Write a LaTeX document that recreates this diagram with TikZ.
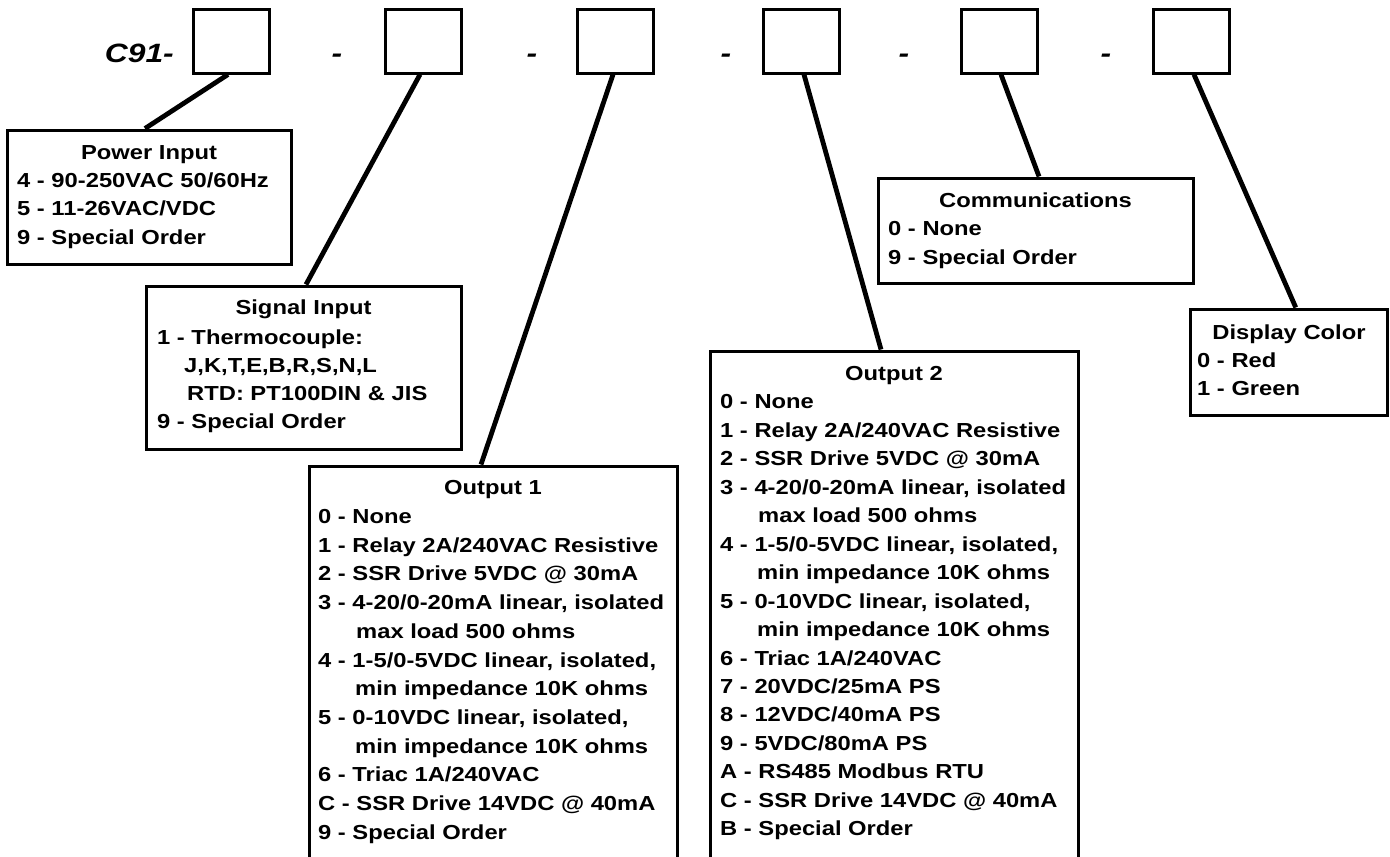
\documentclass[tikz,border=0pt]{standalone}
\usepackage{fontspec}
\setmainfont{Liberation Sans}[FakeStretch=1.17]
\newfontfamily\codefont{Liberation Sans}[FakeStretch=1.2]
\begin{document}
\begin{tikzpicture}[x=1pt,y=-1pt,
  slot/.style={draw, line width=3pt, minimum width=76pt, minimum height=64pt, inner sep=0pt},
  panel/.style={draw, line width=3pt, inner sep=0pt},
  conn/.style={line width=4.8pt},
  ttl/.style={font=\bfseries\fontsize{20.3}{24}\selectfont, anchor=base, inner sep=0pt},
  itm/.style={font=\bfseries\fontsize{20.3}{24}\selectfont, anchor=base west, inner sep=0pt},
  code/.style={font=\codefont\bfseries\itshape\fontsize{26.5}{30}\selectfont, anchor=base, inner sep=0pt}]
\useasboundingbox (0,0) rectangle (1390,857);
\clip (0,0) rectangle (1390,857);
\fill[white] (0,0) rectangle (1390,857);

% code boxes
\node[code, anchor=base east] (c91) at (174,62) {C91-};
\node[slot] (d1) at (231,41) {};
\node[slot] (d2) at (423,41) {};
\node[slot] (d3) at (615,41) {};
\node[slot] (d4) at (801,41) {};
\node[slot] (d5) at (999,41) {};
\node[slot] (d6) at (1191,41) {};
\node[code] (h1) at (337,62) {-};
\node[code] (h2) at (532,62) {-};
\node[code] (h3) at (726,62) {-};
\node[code] (h4) at (904,62) {-};
\node[code] (h5) at (1106,62) {-};

% option panels
\node[panel, minimum width=284pt, minimum height=134pt] (pw) at (149,197) {};
\node[panel, minimum width=315pt, minimum height=163pt] (si) at (303.5,367.5) {};
\node[panel, minimum width=368pt, minimum height=434pt] (o1) at (493,683) {};
\node[panel, minimum width=368pt, minimum height=549pt] (o2) at (894,625.5) {};
\node[panel, minimum width=315pt, minimum height=105pt] (cm) at (1035.5,230.5) {};
\node[panel, minimum width=197.5pt, minimum height=106pt] (dc) at (1288.75,362) {};

% connectors
\draw[conn] ([xshift=-3pt]d1.south) -- ([xshift=-4pt]pw.north);
\draw[conn] ([xshift=-3pt]d2.south) -- ([xshift=2.5pt]si.north);
\draw[conn] ([xshift=-2pt]d3.south) -- ([xshift=-12pt]o1.north);
\draw[conn] ([xshift=3pt]d4.south) -- ([xshift=-13pt]o2.north);
\draw[conn] ([xshift=2pt]d5.south) -- ([xshift=3.5pt]cm.north);
\draw[conn] ([xshift=3pt]d6.south) -- ([xshift=7pt]dc.north);

% Power Input
\node[ttl] (pwt) at (149,159.5) {Power Input};
\foreach \t [count=\i] in {{4 - 90-250VAC 50/60Hz},{5 - 11-26VAC/VDC},{9 - Special Order}}
  \node[itm] (pw\i) at (17,159.5+28.2*\i) {\t};

% Signal Input
\node[ttl] (sit) at (303.5,314.5) {Signal Input};
\foreach \t [count=\i] in {{1 - Thermocouple:},{\hspace*{27pt}J,K,T,E,B,R,S,N,L},{\hspace*{30pt}RTD: PT100DIN \& JIS},{9 - Special Order}}
  \node[itm] (si\i) at (157,316+28.1*\i) {\t};

% Output 1
\node[ttl] (o1t) at (493,494.5) {Output 1};
\foreach \t [count=\i] in {{0 - None},{1 - Relay 2A/240VAC Resistive},{2 - SSR Drive 5VDC @ 30mA},
  {3 - 4-20/0-20mA linear, isolated},{\hspace*{38pt}max load 500 ohms},
  {4 - 1-5/0-5VDC linear, isolated,},{\hspace*{37pt}min impedance 10K ohms},
  {5 - 0-10VDC linear, isolated,},{\hspace*{37pt}min impedance 10K ohms},
  {6 - Triac 1A/240VAC},{C - SSR Drive 14VDC @ 40mA},{9 - Special Order}}
  \node[itm] (o1\i) at (318,494.8+28.7*\i) {\t};

% Output 2
\node[ttl] (o2t) at (894,380.5) {Output 2};
\foreach \t [count=\i] in {{0 - None},{1 - Relay 2A/240VAC Resistive},{2 - SSR Drive 5VDC @ 30mA},
  {3 - 4-20/0-20mA linear, isolated},{\hspace*{38pt}max load 500 ohms},
  {4 - 1-5/0-5VDC linear, isolated,},{\hspace*{37pt}min impedance 10K ohms},
  {5 - 0-10VDC linear, isolated,},{\hspace*{37pt}min impedance 10K ohms},
  {6 - Triac 1A/240VAC},{7 - 20VDC/25mA PS},{8 - 12VDC/40mA PS},{9 - 5VDC/80mA PS},
  {A - RS485 Modbus RTU},{C - SSR Drive 14VDC @ 40mA},{B - Special Order}}
  \node[itm] (o2\i) at (720,380.3+28.47*\i) {\t};

% Communications
\node[ttl] (cmt) at (1035.5,207.5) {Communications};
\foreach \t [count=\i] in {{0 - None},{9 - Special Order}}
  \node[itm] (cm\i) at (888,207+28.5*\i) {\t};

% Display Color
\node[ttl] (dct) at (1289,339.5) {Display Color};
\foreach \t [count=\i] in {{0 - Red},{1 - Green}}
  \node[itm] (dc\i) at (1197,339.5+28*\i) {\t};
\end{tikzpicture}
\end{document}
